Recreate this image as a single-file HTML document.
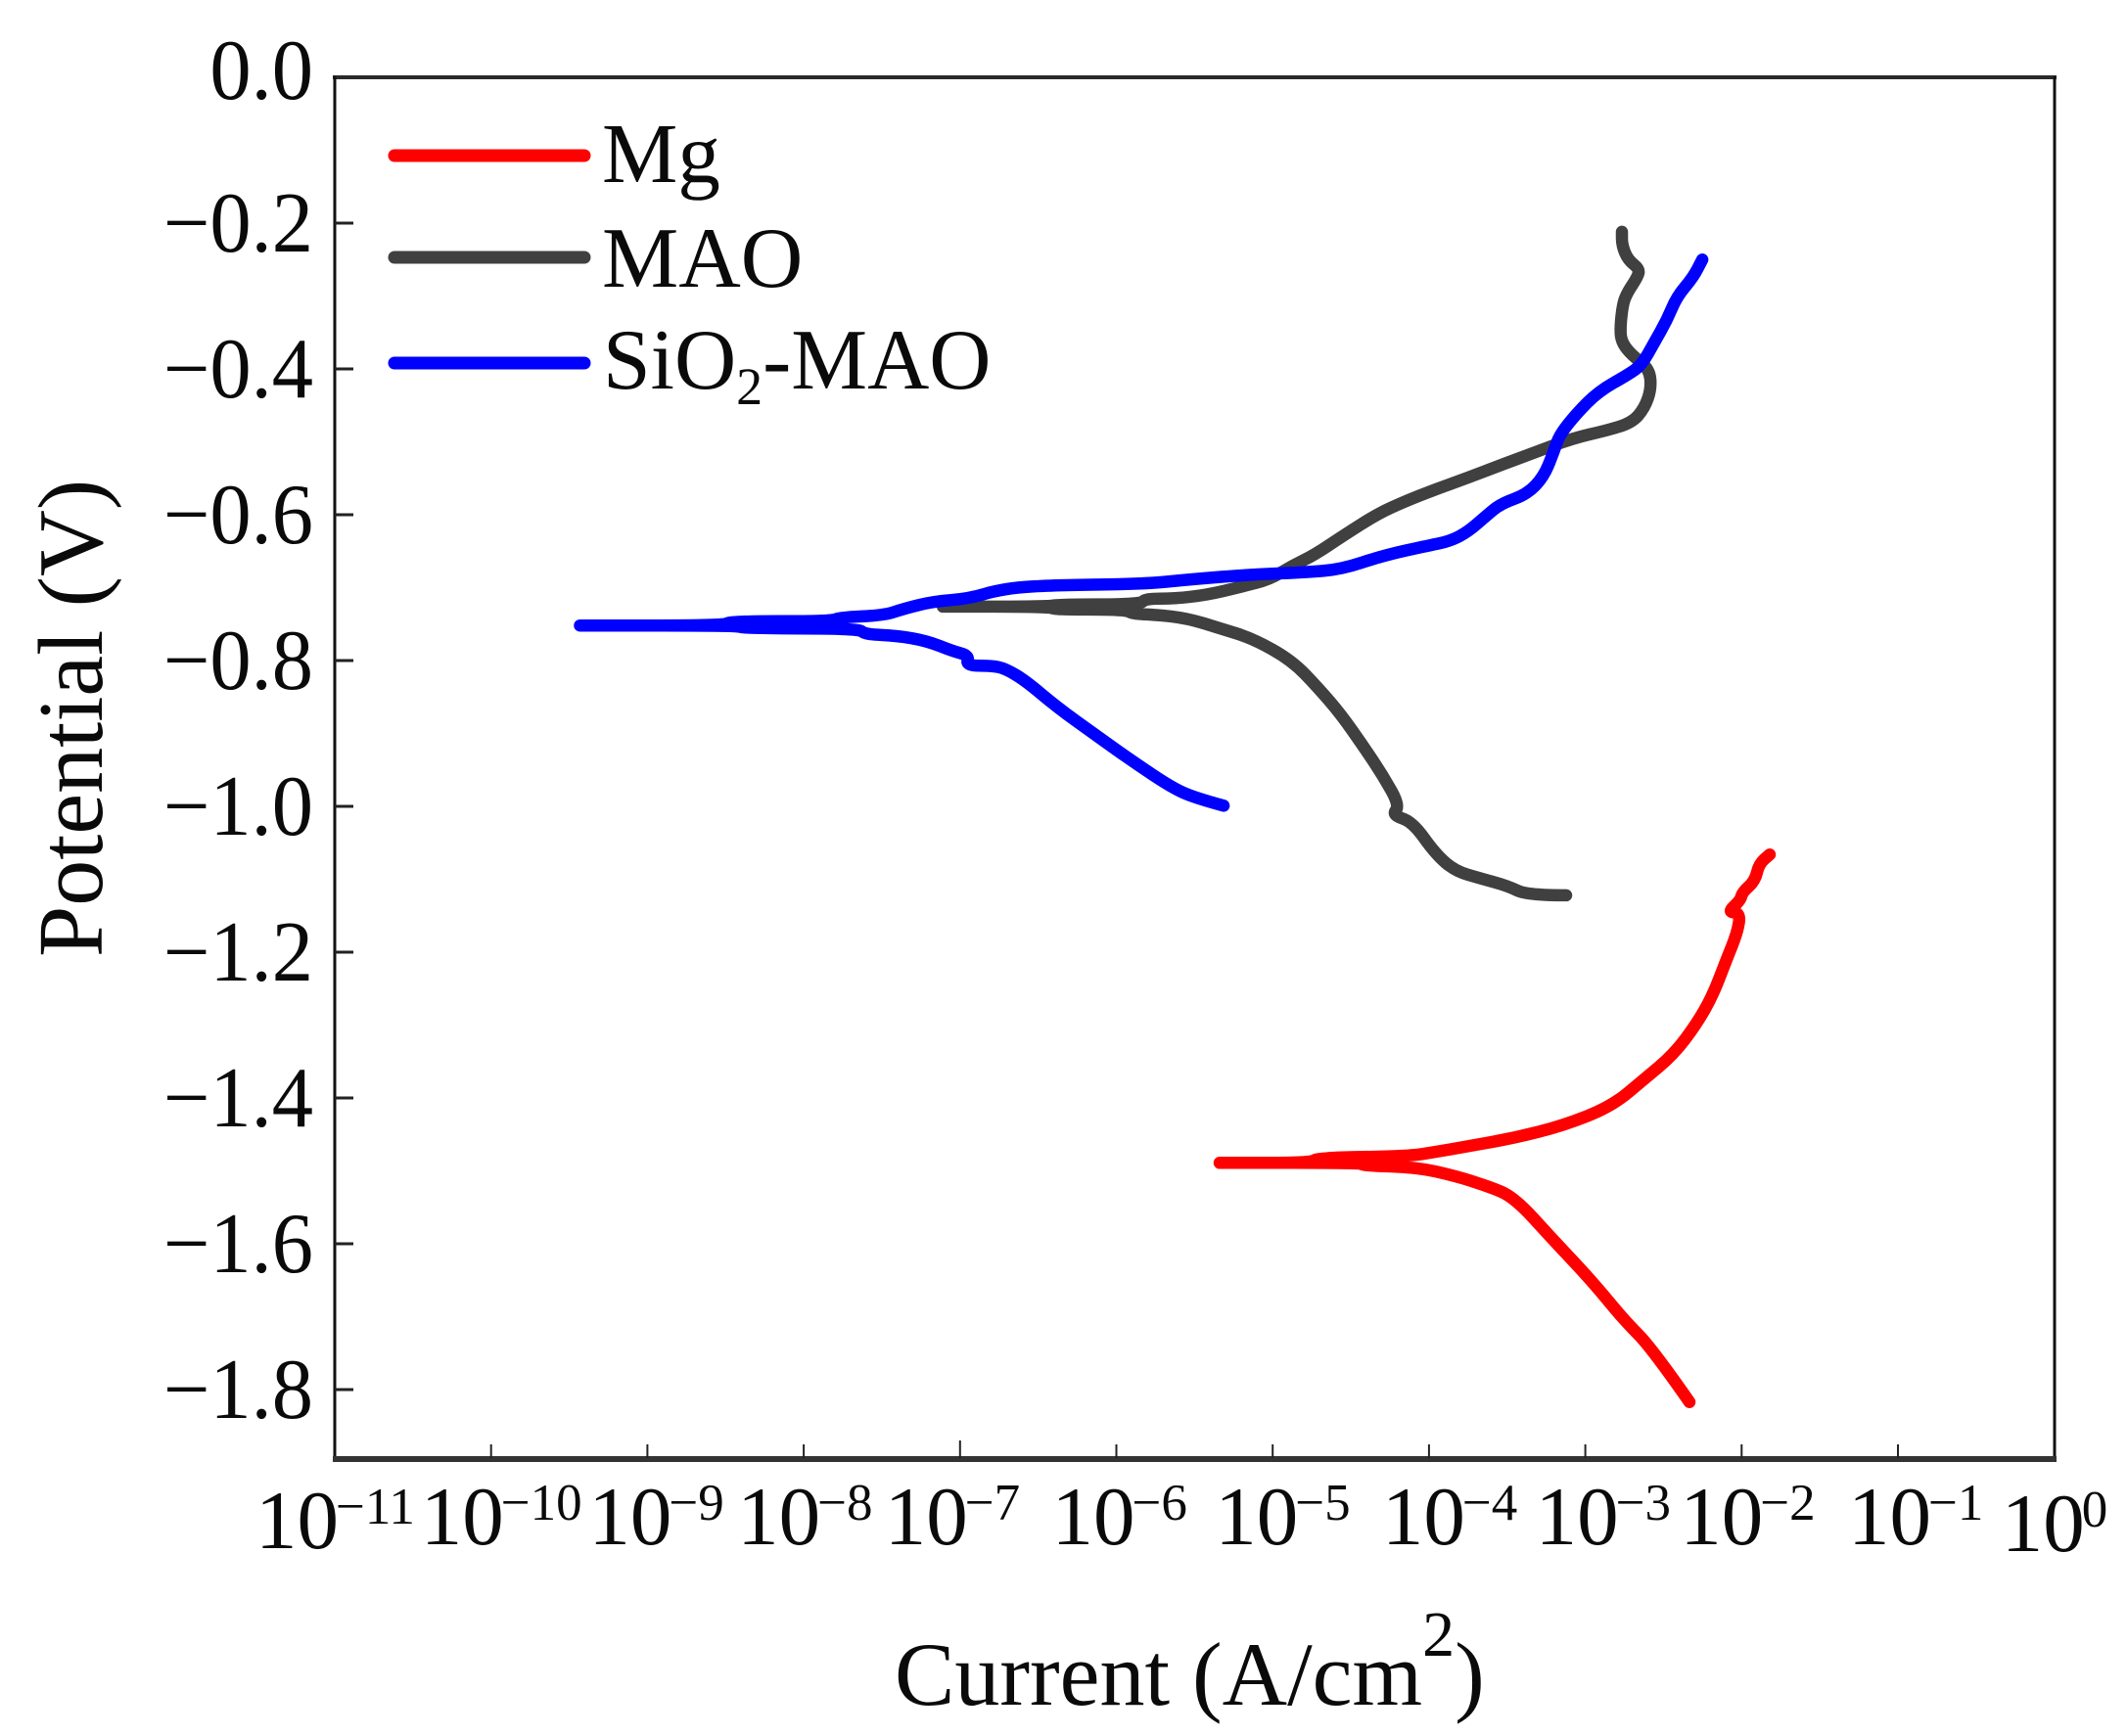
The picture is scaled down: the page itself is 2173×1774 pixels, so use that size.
<!DOCTYPE html>
<html>
<head>
<meta charset="utf-8">
<title>Polarization curves</title>
<style>
html,body{margin:0;padding:0;background:#fff;width:2173px;height:1774px;overflow:hidden}
svg{display:block}
text{font-family:"Liberation Serif",serif;fill:#0a0a0a}
</style>
</head>
<body>
<svg id="chart" xmlns="http://www.w3.org/2000/svg" width="2173" height="1774" viewBox="0 0 2173 1774">
  <rect x="0" y="0" width="2173" height="1774" fill="#ffffff"/>
  <g id="series"></g>
  <g id="axes">
    <line x1="340" y1="79" x2="2101" y2="79" stroke="#2a2a2a" stroke-width="4"/>
    <line x1="342" y1="78" x2="342" y2="1493" stroke="#111" stroke-width="3"/>
    <line x1="2099" y1="78" x2="2099" y2="1493" stroke="#111" stroke-width="3"/>
    <line x1="340" y1="1491" x2="2101" y2="1491" stroke="#333" stroke-width="6"/>
  </g>
  <g id="ticks"></g>
  <text transform="translate(104,978) rotate(-90)" font-size="94">Potential (V)</text>
  <text x="914" y="1742" font-size="92">Current (A/cm<tspan font-size="66" dy="-50">2</tspan><tspan dy="50">)</tspan></text>
  <g id="legend">
    <line x1="403" y1="159" x2="597" y2="159" stroke="#ff0000" stroke-width="13" stroke-linecap="round"/>
    <text x="615" y="186" font-size="87">Mg</text>
    <line x1="403" y1="263" x2="597" y2="263" stroke="#404040" stroke-width="13" stroke-linecap="round"/>
    <text x="615" y="293" font-size="88">MAO</text>
    <line x1="403" y1="371" x2="597" y2="371" stroke="#0000ff" stroke-width="13" stroke-linecap="round"/>
    <text x="616" y="397" font-size="87.5">SiO<tspan font-size="54" dy="16">2</tspan><tspan dy="-16">-MAO</tspan></text>
  </g>
</svg>
<script>
// ---- Chart data: log10(current density, A/cm2) and potential (V) ----
const mgLogCurrent = [-2.334,-2.578,-2.747,-2.954,-3.204,-3.455,-3.624,-3.830,-4.081,-4.406,-4.450,-5.283,-5.358,-5.283,-4.751,-4.719,-4.143,-3.956,-3.768,-3.455,-3.142,-2.828,-2.622,-2.434,-2.290,-2.184,-2.102,-2.027,-2.008,-2.090,-2.008,-1.996,-1.914,-1.889,-1.820];
const mgPotential = [-1.817,-1.742,-1.706,-1.652,-1.595,-1.536,-1.521,-1.507,-1.495,-1.493,-1.489,-1.489,-1.489,-1.489,-1.489,-1.482,-1.480,-1.474,-1.467,-1.455,-1.438,-1.411,-1.374,-1.340,-1.299,-1.259,-1.213,-1.173,-1.146,-1.145,-1.129,-1.118,-1.102,-1.079,-1.066];

const maoLogCurrent = [-3.123,-3.373,-3.498,-3.667,-3.830,-3.956,-4.106,-4.237,-4.187,-4.294,-4.419,-4.563,-4.707,-4.876,-5.126,-5.333,-5.546,-5.753,-5.897,-5.941,-6.398,-6.429,-7.337,-6.429,-6.398,-5.847,-5.815,-5.627,-5.421,-5.208,-5.020,-4.876,-4.732,-4.544,-4.331,-4.168,-3.956,-3.749,-3.542,-3.329,-3.079,-2.872,-2.703,-2.622,-2.578,-2.590,-2.703,-2.766,-2.778,-2.760,-2.728,-2.666,-2.653,-2.728,-2.766,-2.766];
const maoPotential = [-1.122,-1.122,-1.109,-1.099,-1.089,-1.066,-1.021,-1.012,-0.999,-0.958,-0.918,-0.874,-0.838,-0.800,-0.770,-0.756,-0.742,-0.737,-0.736,-0.730,-0.730,-0.726,-0.726,-0.726,-0.723,-0.723,-0.715,-0.715,-0.710,-0.699,-0.689,-0.670,-0.655,-0.628,-0.599,-0.583,-0.565,-0.549,-0.532,-0.515,-0.495,-0.485,-0.474,-0.454,-0.427,-0.400,-0.381,-0.364,-0.346,-0.310,-0.294,-0.274,-0.263,-0.250,-0.230,-0.212];

const sioLogCurrent = [-5.314,-5.502,-5.646,-5.878,-6.128,-6.379,-6.585,-6.711,-6.798,-6.961,-6.942,-7.049,-7.212,-7.400,-7.612,-7.644,-8.383,-8.433,-9.384,-9.447,-9.384,-8.508,-8.477,-7.819,-7.775,-7.487,-7.362,-7.174,-6.942,-6.755,-6.504,-5.815,-5.546,-5.208,-4.795,-4.563,-4.294,-3.999,-3.862,-3.749,-3.642,-3.542,-3.373,-3.267,-3.204,-3.167,-3.060,-2.916,-2.728,-2.641,-2.559,-2.478,-2.415,-2.309,-2.252];
const sioPotential = [-0.999,-0.988,-0.974,-0.941,-0.903,-0.864,-0.827,-0.811,-0.807,-0.807,-0.793,-0.787,-0.773,-0.766,-0.764,-0.756,-0.756,-0.752,-0.752,-0.752,-0.752,-0.752,-0.746,-0.746,-0.741,-0.738,-0.729,-0.719,-0.715,-0.703,-0.697,-0.695,-0.689,-0.683,-0.679,-0.675,-0.656,-0.642,-0.636,-0.623,-0.603,-0.585,-0.572,-0.548,-0.515,-0.491,-0.462,-0.431,-0.408,-0.395,-0.364,-0.333,-0.301,-0.274,-0.250];

const yTickValues = [0,-0.2,-0.4,-0.6,-0.8,-1.0,-1.2,-1.4,-1.6,-1.8];
const yTickLabels = ["0.0","\u22120.2","\u22120.4","\u22120.6","\u22120.8","\u22121.0","\u22121.2","\u22121.4","\u22121.6","\u22121.8"];
const xTickExponents = [-11,-10,-9,-8,-7,-6,-5,-4,-3,-2,-1,0];
const xTickLabels = ["\u221211","\u221210","\u22129","\u22128","\u22127","\u22126","\u22125","\u22124","\u22123","\u22122","\u22121","0"];

// ---- Layout (not data) ----
const xLabelNudge = [-81,-72,-60,-68,-77,-66,-59,-48,-51,-63,-51,-54];
const plotLeft = 342, pxPerDecade = 159.7, plotTop = 79, pxPerVolt = 745, bottomY = 1490;
function xScale(logI){ return plotLeft + (logI + 11) * pxPerDecade; }
function yScale(v){ return plotTop - v * pxPerVolt; }

const NS = 'http://www.w3.org/2000/svg';
const seriesLayer = document.getElementById('series');
const tickLayer = document.getElementById('ticks');

// Smooth polyline through segment midpoints so the hand-traced curve has no visible corners.
function pathFrom(xs, ys){
  const px = xs.map(xScale);
  const py = ys.map(yScale);
  let d = 'M' + px[0].toFixed(1) + ' ' + py[0].toFixed(1);
  for (let i = 1; i < px.length - 1; i++) {
    const mx = (px[i] + px[i+1]) / 2;
    const my = (py[i] + py[i+1]) / 2;
    d += ' Q' + px[i].toFixed(1) + ' ' + py[i].toFixed(1) + ' ' + mx.toFixed(1) + ' ' + my.toFixed(1);
  }
  d += ' L' + px[px.length-1].toFixed(1) + ' ' + py[py.length-1].toFixed(1);
  return d;
}
function drawSeries(name, xs, ys, color){
  const p = document.createElementNS(NS,'path');
  
  
  p.setAttribute('d', pathFrom(xs, ys));
  p.setAttribute('fill', 'none');
  p.setAttribute('stroke', color);
  p.setAttribute('stroke-width', '12.5');
  p.setAttribute('stroke-linejoin', 'round');
  p.setAttribute('stroke-linecap', 'round');
  seriesLayer.appendChild(p);
}
drawSeries('series-mg', mgLogCurrent, mgPotential, '#ff0000');
drawSeries('series-mao', maoLogCurrent, maoPotential, '#404040');
drawSeries('series-sio2-mao', sioLogCurrent, sioPotential, '#0000ff');

yTickValues.forEach(function(v,i){
  const y = yScale(v);
  if (i > 0) {
    const t = document.createElementNS(NS,'line');
    
    
    t.setAttribute('x1', plotLeft);
    t.setAttribute('x2', plotLeft + 19);
    t.setAttribute('y1', y);
    t.setAttribute('y2', y);
    t.setAttribute('stroke', '#222');
    t.setAttribute('stroke-width', '3');
    tickLayer.appendChild(t);
  }
  const l = document.createElementNS(NS,'text');
  
  
  l.setAttribute('text-anchor', 'end');
  l.setAttribute('font-size', '88');
  l.setAttribute('transform', 'translate(320,' + (i === 0 ? 101 : y + 29) + ') scale(0.96,1)');
  l.textContent = yTickLabels[i];
  tickLayer.appendChild(l);
});

xTickExponents.forEach(function(e,i){
  const x = xScale(e);
  if (i > 0 && i < xTickExponents.length - 1) {
    const t = document.createElementNS(NS,'line');
    
    
    t.setAttribute('x1', x);
    t.setAttribute('x2', x);
    t.setAttribute('y1', bottomY);
    t.setAttribute('y2', bottomY - (e === -7 ? 18 : 14));
    t.setAttribute('stroke', '#222');
    t.setAttribute('stroke-width', '2');
    tickLayer.appendChild(t);
  }
  const l = document.createElementNS(NS,'text');
  
  
  l.setAttribute('x', x + xLabelNudge[i]);
  l.setAttribute('y', i === 0 ? 1582 : (i === xTickExponents.length - 1 ? 1585 : 1578));
  l.setAttribute('font-size', '85');
  l.appendChild(document.createTextNode('10'));
  const s = document.createElementNS(NS,'tspan');
  
  
  s.setAttribute('font-size', '53');
  s.setAttribute('dy', '-25');
  s.setAttribute('dx', '-3');
  s.textContent = xTickLabels[i];
  l.appendChild(s);
  tickLayer.appendChild(l);
});
</script>
</body>
</html>
